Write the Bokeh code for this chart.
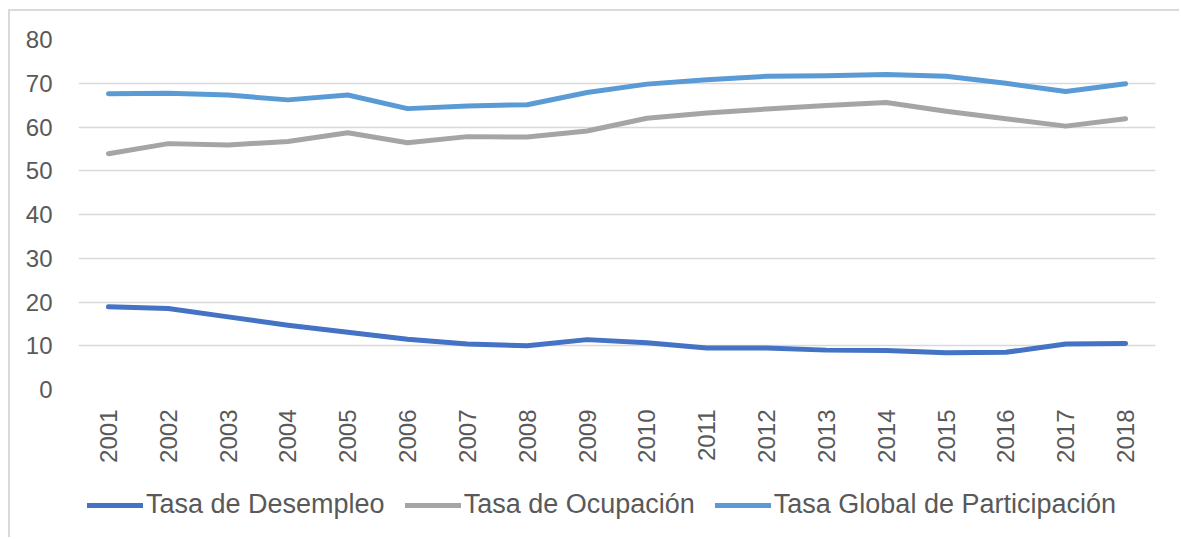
import math
from bokeh.plotting import figure
from bokeh.layouts import column
from bokeh.models import FactorRange, Range1d, FixedTicker, Legend, LegendItem
from bokeh.embed import file_html
from bokeh.resources import INLINE

years = [str(y) for y in range(2001, 2019)]
desempleo = [18.9, 18.5, 16.6, 14.7, 13.1, 11.5, 10.4, 10.0, 11.4, 10.7,
             9.5, 9.5, 9.0, 8.9, 8.4, 8.5, 10.4, 10.5]
ocupacion = [53.9, 56.2, 55.9, 56.7, 58.7, 56.4, 57.8, 57.7, 59.1, 62.0,
             63.2, 64.1, 64.9, 65.6, 63.6, 61.9, 60.2, 61.9]
participacion = [67.6, 67.7, 67.3, 66.2, 67.3, 64.2, 64.8, 65.1, 67.9, 69.8,
                 70.8, 71.6, 71.7, 72.0, 71.6, 70.0, 68.1, 69.9]
y_ticks = [0, 10, 20, 30, 40, 50, 60, 70, 80]
names = ["Tasa de Desempleo", "Tasa de Ocupación", "Tasa Global de Participación"]
colors = ["#4472C4", "#A5A5A5", "#5B9BD5"]
series_list = [desempleo, ocupacion, participacion]

p = figure(frame_width=1077, frame_height=350, x_range=FactorRange(*years),
           y_range=Range1d(0, 80), output_backend="svg", toolbar_location=None,
           min_border_left=68, min_border_right=24, min_border_top=28,
           min_border_bottom=80)
p.outline_line_color = None

for series, c in zip(series_list, colors):
    p.line(years, series, line_color=c, line_width=5,
           line_cap="round", line_join="round")

p.yaxis.ticker = FixedTicker(ticks=y_ticks)
p.ygrid.grid_line_color = "#D9D9D9"
p.ygrid.grid_line_width = 1.5
p.xgrid.grid_line_color = None

for ax in (p.xaxis, p.yaxis):
    ax.axis_line_color = None
    ax.major_tick_line_color = None
    ax.minor_tick_line_color = None
    ax.major_label_text_font = "Liberation Sans"
    ax.major_label_text_font_size = "24px"
    ax.major_label_text_color = "#595959"

p.yaxis.major_label_standoff = 20
p.xaxis.major_label_standoff = 14
p.xaxis.major_label_orientation = math.pi / 2

# legend strip: same series drawn out of view, legend inside its frame
lf = figure(frame_width=1169, frame_height=68, x_range=FactorRange(*years),
            y_range=Range1d(1000, 1001), output_backend="svg", toolbar_location=None,
            min_border_left=0, min_border_right=0, min_border_top=0, min_border_bottom=0)
lf.axis.visible = False
lf.grid.visible = False
lf.outline_line_color = None
lrs = []
for series, c in zip(series_list, colors):
    lrs.append(lf.line(years, series, line_color=c, line_width=5,
                       line_cap="round", line_join="round"))

legend = Legend(items=[LegendItem(label=n, renderers=[r]) for n, r in zip(names, lrs)],
                orientation="horizontal", location=(77, 17),
                label_text_font="Liberation Sans", label_text_font_size="27px",
                label_text_color="#595959", glyph_width=56,
                label_standoff=3, spacing=20, padding=0, margin=0,
                border_line_color=None, background_fill_alpha=0)
lf.add_layout(legend)

layout = column(p, lf, spacing=0, margin=(9, 0, 0, 8),
                styles={"border-left": "2px solid #D9D9D9",
                        "border-top": "2px solid #D9D9D9",
                        "border-right": "0px none transparent",
                        "border-bottom": "0px none transparent"})
open("out.html", "w").write(file_html(layout, INLINE))
